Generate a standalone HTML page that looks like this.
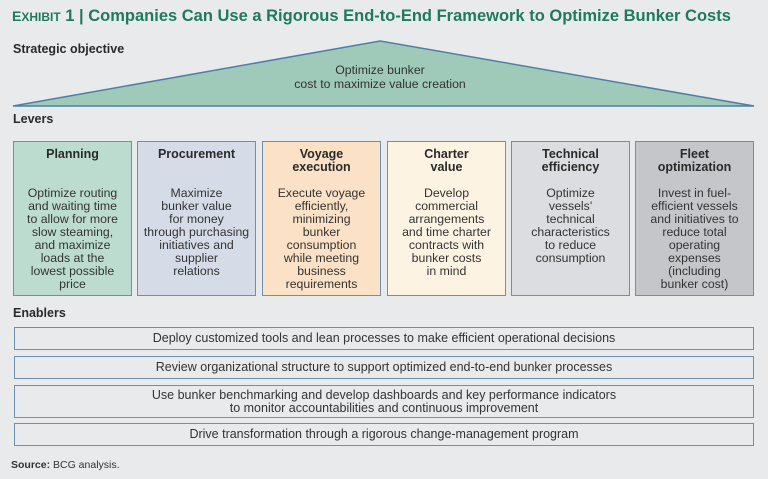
<!DOCTYPE html>
<html><head><meta charset="utf-8"><style>
body{margin:0;width:768px;height:479px;background:#e9eaeb;font-family:"Liberation Sans",sans-serif;color:#333;position:relative;overflow:hidden}
.a{position:absolute}
.t{left:12px;top:7px;font-size:16.5px;font-weight:bold;color:#1f7a5c;white-space:nowrap}
.h{font-size:12.5px;font-weight:bold;color:#2a2a2a}
.box{position:absolute;top:141px;width:119px;height:155px;border:1.5px solid #6f8fae;box-sizing:border-box;text-align:center;font-size:12.3px;line-height:13px}
.box b{display:block;margin-top:6px;height:32px;font-size:12.5px;color:#2a2a2a}
.box div{margin-top:7px}
.en{position:absolute;left:14px;width:740px;border:1.5px solid #6f8fae;box-sizing:border-box;text-align:center;font-size:12.5px;line-height:13px;display:flex;align-items:center;justify-content:center}
</style></head><body>
<div class="a t"><span style="font-size:14px">E</span><span style="font-size:12px">XHIBIT</span> 1 | Companies Can Use a Rigorous End-to-End Framework to Optimize Bunker Costs</div>
<div class="a h" style="left:13px;top:42px">Strategic objective</div>
<svg class="a" style="left:0;top:0" width="768" height="120"><polygon points="13,106 380,41 754,106" fill="#9fc9b8" stroke="#4f7fa5" stroke-width="1.5"/></svg>
<div class="a" style="left:280px;top:64px;width:200px;text-align:center;font-size:12.3px;line-height:13.5px">Optimize bunker<br>cost to maximize value creation</div>
<div class="a h" style="left:13px;top:112px">Levers</div>
<div class="box" style="left:13px;background:#bcdcd0"><b>Planning</b><div>Optimize routing<br>and waiting time<br>to allow for more<br>slow steaming,<br>and maximize<br>loads at the<br>lowest possible<br>price</div></div>
<div class="box" style="left:137px;background:#d5dce8"><b>Procurement</b><div>Maximize<br>bunker value<br>for money<br>through purchasing<br>initiatives and<br>supplier<br>relations</div></div>
<div class="box" style="left:262px;background:#fbe1c6"><b>Voyage<br>execution</b><div>Execute voyage<br>efficiently,<br>minimizing<br>bunker<br>consumption<br>while meeting<br>business<br>requirements</div></div>
<div class="box" style="left:387px;background:#fdf3e2"><b>Charter<br>value</b><div>Develop<br>commercial<br>arrangements<br>and time charter<br>contracts with<br>bunker costs<br>in mind</div></div>
<div class="box" style="left:511px;background:#dcdde0"><b>Technical<br>efficiency</b><div>Optimize<br>vessels'<br>technical<br>characteristics<br>to reduce<br>consumption</div></div>
<div class="box" style="left:635px;background:#c4c6ca"><b>Fleet<br>optimization</b><div>Invest in fuel-<br>efficient vessels<br>and initiatives to<br>reduce total<br>operating<br>expenses<br>(including<br>bunker cost)</div></div>
<div class="a h" style="left:13px;top:306px">Enablers</div>
<div class="en" style="top:327px;height:23px">Deploy customized tools and lean processes to make efficient operational decisions</div>
<div class="en" style="top:356px;height:23px">Review organizational structure to support optimized end-to-end bunker processes</div>
<div class="en" style="top:385px;height:33px">Use bunker benchmarking and develop dashboards and key performance indicators<br>to monitor accountabilities and continuous improvement</div>
<div class="en" style="top:423px;height:23px">Drive transformation through a rigorous change-management program</div>
<div class="a" style="left:11px;top:459px;font-size:10.5px"><b>Source:</b> BCG analysis.</div>
</body></html>
